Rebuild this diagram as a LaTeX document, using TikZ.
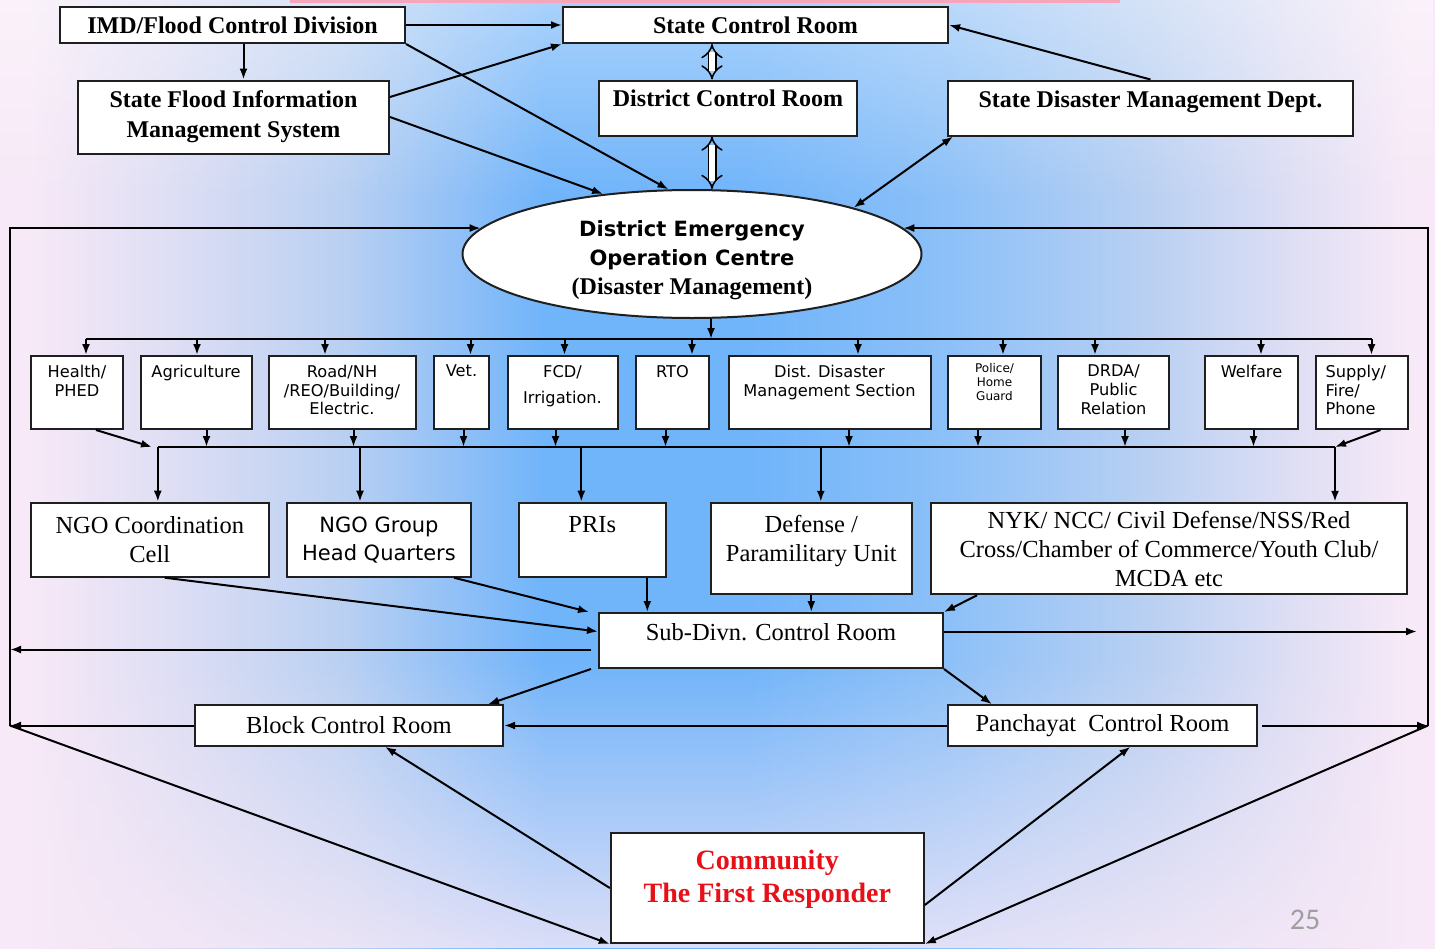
\documentclass[tikz,border=0pt]{standalone}
\usepackage{fontspec}
\setmainfont{Liberation Serif}
\newfontfamily\dvsans{DejaVu Sans}
\newfontfamily\numfont{Carlito}
\usetikzlibrary{positioning,shapes.geometric,arrows.meta,fadings}

\definecolor{bgpink}{RGB}{247,233,247}
\definecolor{bgedge}{RGB}{222,222,244}
\definecolor{bglight}{RGB}{185,208,242}
\definecolor{bgmid}{RGB}{140,192,248}
\definecolor{bgblue}{RGB}{112,180,250}
\definecolor{redtxt}{RGB}{232,16,24}
\definecolor{stripred}{RGB}{246,166,186}

% the path covers 25bp..75bp of the shading
\pgfdeclarehorizontalshading{bgshade}{100bp}{color(0bp)=(bgpink); color(26bp)=(bgpink);
  color(31bp)=(bgedge); color(37bp)=(bglight); color(44bp)=(bgblue); color(51bp)=(bgblue);
  color(58bp)=(bgmid); color(65bp)=(bglight); color(70bp)=(bgedge); color(74bp)=(bgpink); color(100bp)=(bgpink)}

\tikzset{
  rbox/.style={draw=black!88, line width=2pt, fill=white, inner sep=0pt, align=center},
  cbox/.style={rbox, minimum height=73},
  txt/.style={inner sep=0pt, align=center},
  hfont/.style={font=\fontsize{24}{30}\selectfont\bfseries},
  nfont/.style={font=\fontsize{24.5}{29}\selectfont},
  sfont/.style={font=\dvsans\fontsize{16.2}{18.8}\selectfont},
  dblarrow/.style={double=white, double distance=6pt, line width=1.5pt, {Implies}-{Implies}},
}

\begin{document}
\begin{tikzpicture}[x=1pt, y=-1pt, >={Latex[length=11pt,width=8pt]}, line width=2pt]
% background
\useasboundingbox (0,0) rectangle (1435,948);
\shade[shading=bgshade] (0,0) rectangle (1435,948);
\fill[bgpink, path fading=north, fill opacity=0.8] (0,660) rectangle (1435,948);
\fill[white, path fading=south, fill opacity=0.4] (0,0) rectangle (1435,200);
\fill[stripred] (290,0) rectangle (1120,3);

% state level
\node[rbox, hfont, minimum width=345, minimum height=36] (imd) at (232.5,25) {IMD/Flood Control Division};
\node[rbox, hfont, minimum width=385, minimum height=36] (scr) at (755.5,25) {State Control Room};
\node[rbox, hfont, minimum width=311, minimum height=73] (sfims) at (233.5,117) {State Flood Information\\Management System};
\node[rbox, minimum width=258, minimum height=55] (dcr) at (728,108) {};
\node[txt, hfont, below=9pt of dcr.north] (dcrtxt) {District Control Room};
\node[rbox, minimum width=405, minimum height=55] (sdmd) at (1150.5,108) {};
\node[txt, hfont, below=10pt of sdmd.north] (sdmdtxt) {State Disaster Management Dept.};

% district centre
\node[rbox, ellipse, minimum width=459, minimum height=128] (deoc) at (692,254) {};
\node[txt, font=\dvsans\bfseries\fontsize{21}{29}\selectfont] (deoctxt) at ([yshift=-6pt]deoc.center)
      {District Emergency\\Operation Centre\\{\rmfamily\fontsize{24}{29}\selectfont (Disaster Management)}};

% departments
\node[cbox, minimum width=92] (hp) at (77,392.5) {};
\node[txt, sfont, below=9pt of hp.north] (hptxt) {Health/\\PHED};
\node[cbox, minimum width=111] (ag) at (196,392.5) {};
\node[txt, sfont, below=9pt of ag.north] (agtxt) {Agriculture};
\node[cbox, minimum width=147] (rd) at (342,392.5) {};
\node[txt, sfont, below=9pt of rd.north] (rdtxt) {Road/NH\\/REO/Building/\\Electric.};
\node[cbox, minimum width=55] (vt) at (461.5,392.5) {};
\node[txt, sfont, below=9pt of vt.north] (vttxt) {Vet.};
\node[cbox, minimum width=110] (fcd) at (562.5,392.5) {};
\node[txt, sfont, below=9pt of fcd.north] (fcdtxt) {FCD/\\[8pt]Irrigation.};
\node[cbox, minimum width=73] (rto) at (672.5,392.5) {};
\node[txt, sfont, below=9pt of rto.north] (rtotxt) {RTO};
\node[cbox, minimum width=202] (dd) at (829.5,392.5) {};
\node[txt, sfont, below=9pt of dd.north] (ddtxt) {Dist. Disaster\\Management Section};
\node[cbox, minimum width=93] (pol) at (994.5,392.5) {};
\node[txt, font=\dvsans\fontsize{12}{14}\selectfont, below=7pt of pol.north] (poltxt) {Police/\\Home\\Guard};
\node[cbox, minimum width=111] (drda) at (1113.5,392.5) {};
\node[txt, sfont, below=9pt of drda.north] (drdatxt) {DRDA/\\Public\\Relation};
\node[cbox, minimum width=93] (wel) at (1251.5,392.5) {};
\node[txt, sfont, below=9pt of wel.north] (weltxt) {Welfare};
\node[cbox, minimum width=92] (sup) at (1361.5,392.5) {};
\node[txt, sfont, align=left, below right=9pt and 10pt of sup.north west] (suptxt) {Supply/\\Fire/\\Phone};

% agencies
\node[rbox, nfont, minimum width=238, minimum height=74] (ngoc) at (149.8,539.7) {NGO Coordination\\Cell};
\node[rbox, font=\dvsans\fontsize{21}{28}\selectfont, minimum width=184, minimum height=74] (ngog) at (379,539.7) {NGO Group\\Head Quarters};
\node[rbox, minimum width=147, minimum height=74] (pri) at (592.3,539.7) {};
\node[txt, nfont, below=14pt of pri.north] (pritxt) {PRIs};
\node[rbox, minimum width=201, minimum height=91.5] (def) at (811.3,548.5) {};
\node[txt, nfont, below=12pt of def.north] (deftxt) {Defense /\\Paramilitary Unit};
\node[rbox, nfont, minimum width=476, minimum height=91.5] (nyk) at (1169,548.5) {NYK/ NCC/ Civil Defense/NSS/Red\\Cross/Chamber of Commerce/Youth Club/\\MCDA etc};

% lower control rooms
\node[rbox, minimum width=344, minimum height=55] (sub) at (771,640.5) {};
\node[txt, nfont, below=10pt of sub.north] (subtxt) {Sub-Divn. Control Room};
\node[rbox, nfont, minimum width=308, minimum height=40.5] (blk) at (349,725.5) {Block Control Room};
\node[rbox, nfont, minimum width=309, minimum height=40.5] (pan) at (1102.4,725.5) {Panchayat~ Control Room};
\node[rbox, minimum width=313, minimum height=110] (com) at (767.3,888) {};
\node[txt, text=redtxt, font=\fontsize{28}{33}\selectfont\bfseries, below=17pt of com.north] (comtxt) {Community\\The First Responder};

\node[font=\numfont\fontsize{30}{30}\selectfont, text=gray!75] (pgnum) at (1305,920) {25};

\coordinate (cornL) at (10,725.5);
\coordinate (cornR) at (1428,725.5);
\coordinate (rgap) at (1417,725.5);
\coordinate (bus1w) at (86,339);
\coordinate (bus1e) at (1371.5,339);
\coordinate (bus2w) at (158,447);
\coordinate (bus2e) at (1335,447);

% top links
\draw[->] (imd.east) -- (scr.west);
\draw[->] ([xshift=11pt]imd.south) -- ([xshift=11pt]imd.south |- sfims.north);
\draw[->] ([yshift=20pt]sfims.east) -- (scr.south west);
\draw[->] (sfims.east) -- (deoc.146);
\draw[->] (imd.south east) -- (deoc.110);
\draw[->] (sdmd.north) -- (scr.east);
\draw[<->] ([xshift=6pt]sdmd.south west) -- (deoc.16);
\draw[dblarrow] ([xshift=-16pt]dcr.north) -- ([xshift=-16pt]dcr.north |- scr.south);
\draw[dblarrow] ([xshift=-16pt]dcr.south) -- ([xshift=-16pt]dcr.south |- deoc.north);

% feedback loops
\draw[->] (cornL) |- (deoc.173);
\draw[->] (cornR) |- (deoc.7);

% department buses
\draw[->] ([xshift=19pt]deoc.south) -- ([xshift=19pt]deoc.south |- bus1w);
\draw (bus1w) -- (bus1e);
\foreach \n/\dx in {hp/9, ag/1, rd/-17, vt/9, fcd/2, rto/19.5, dd/28.5, pol/8.5, drda/-18.5, wel/9.5, sup/10}
  \draw[->] ([xshift=\dx pt]\n.north |- bus1w) -- ([xshift=\dx pt]\n.north);
\foreach \n/\dx in {ag/10.5, rd/11.5, vt/2, fcd/-7, rto/-7, dd/19.5, pol/-16.5, drda/11.5, wel/2}
  \draw[->] ([xshift=\dx pt]\n.south) -- ([xshift=\dx pt]\n.south |- bus2w);
\draw[->] ([xshift=19pt]hp.south) -- ([xshift=-6pt]bus2w);
\draw[->] ([xshift=19pt]sup.south) -- (bus2e);
\draw (bus2w) -- (bus2e);
\foreach \n/\dx in {ngoc/8, ngog/-19, pri/-11, def/9.5, nyk/166}
  \draw[->] ([xshift=\dx pt]\n.north |- bus2w) -- ([xshift=\dx pt]\n.north);

% into sub division
\draw[->] ([xshift=55pt]pri.south) -- ([xshift=55pt]pri.south |- sub.north);
\draw[->] (def.south) -- (def.south |- sub.north);
\draw[->] ([xshift=47pt]nyk.south west) -- (sub.north east);
\draw[->] ([xshift=-18pt]ngog.south east) -- ([xshift=-9pt]sub.north west);
\draw[->] ([xshift=15pt]ngoc.south) -- ([yshift=9pt]sub.west);
\coordinate (subl) at ([xshift=-7pt,yshift=-9pt]sub.west);
\coordinate (subr) at ([yshift=9pt]sub.east);
\draw[->] (subl) -- (subl -| cornL);
\draw[->] (subr) -- (subr -| rgap);

% block and panchayat
\draw[->] ([xshift=-7pt]sub.south west) -- ([xshift=-16pt]blk.north east);
\draw[->] (sub.south east) -- ([xshift=45pt]pan.north west);
\draw[->] (pan.west) -- (blk.east);
\draw[->] (blk.west) -- (cornL);
\draw[->] ([xshift=4pt]pan.east) -- (cornR);

% community
\draw[->] (com.west) -- ([xshift=36pt]blk.south);
\draw[->] ([yshift=-17pt]com.east) -- ([xshift=28pt]pan.south);
\draw[->] (cornL) -- (com.south west);
\draw[->] (cornR) -- (com.south east);
\end{tikzpicture}
\end{document}
